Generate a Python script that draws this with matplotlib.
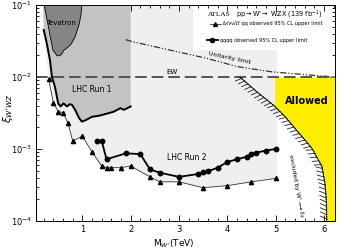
import numpy as np
import matplotlib
matplotlib.use("Agg")
import matplotlib.pyplot as plt
from matplotlib import patheffects as pe
from matplotlib.patches import Rectangle

# ---------------- data ----------------
tri_x = [0.3, 0.4, 0.5, 0.6, 0.7, 0.8, 1.0, 1.2, 1.4, 1.5, 1.6, 1.8, 2.0, 2.4, 2.6, 3.0, 3.5, 4.0, 4.5, 5.0]
tri_y = [0.0093, 0.0044, 0.0033, 0.0032, 0.0023, 0.00129, 0.0015, 0.00091, 0.00058, 0.00055,
         0.00055, 0.00055, 0.00058, 0.00041, 0.00035, 0.00035, 0.00029, 0.00031, 0.00035, 0.00039]

circ_x = [1.3, 1.4, 1.5, 1.9, 2.2, 2.4, 2.6, 3.0, 3.4, 3.5, 3.6, 3.8, 4.0, 4.2, 4.4, 4.5, 4.6, 4.8, 5.0]
circ_y = [0.0013, 0.0013, 0.00072, 0.00087, 0.00085, 0.00052, 0.00047, 0.00041, 0.00045, 0.00048,
          0.00049, 0.00055, 0.00066, 0.00072, 0.00078, 0.00085, 0.00089, 0.00095, 0.0010]

run1_x = [0.20, 0.26, 0.33, 0.37, 0.43, 0.50, 0.55, 0.61, 0.68, 0.74, 0.785, 0.85, 0.93, 0.99,
          1.06, 1.2, 1.35, 1.51, 1.65, 1.79, 1.85, 1.9, 2.0]
run1_y = [0.045, 0.030, 0.017, 0.0100, 0.0074, 0.0043, 0.0039, 0.0043, 0.0039, 0.0042, 0.0041,
          0.0035, 0.0027, 0.0024, 0.0025, 0.0028, 0.0029, 0.0031, 0.0033, 0.0037, 0.0035, 0.0036, 0.0039]

tev_x = [0.19, 0.21, 0.27, 0.33, 0.39, 0.48, 0.56, 0.62, 0.66, 0.77, 0.85, 0.93, 0.97, 0.99]
tev_y = [0.1, 0.1, 0.062, 0.038, 0.0237, 0.0196, 0.0203, 0.0237, 0.0245, 0.0288, 0.036, 0.053, 0.073, 0.1]

unit_x = [1.9, 2.03, 3.54, 4.22, 4.92, 5.89, 6.25]
unit_y = [0.033, 0.031, 0.0184, 0.0139, 0.0118, 0.0104, 0.0100]

wp_x = [4.26, 4.64, 4.95, 5.20, 5.44, 5.75, 5.96, 6.02, 6.05, 6.06]
wp_y = [0.0100, 0.0060, 0.0041, 0.0028, 0.0018, 0.00103, 0.00057, 0.00034, 0.000195, 0.0001]

ew_level = 0.01
run1_xmax = 2.0
run2_xmax = 5.03
xticks = [1, 2, 3, 4, 5, 6]
yticks = [1e-4, 1e-3, 1e-2, 1e-1]
ytick_labels = [r"$10^{-4}$", r"$10^{-3}$", r"$10^{-2}$", r"$10^{-1}$"]

XMIN, XMAX = 0.04, 6.23
YMIN, YMAX = 1e-4, 1e-1

# ---------------- figure ----------------
fig = plt.figure(figsize=(3.39, 2.5), dpi=100)
ax = fig.add_axes([36/339, 29/250, 299/339, 216/250])
ax.set_yscale("log")
ax.set_xlim(XMIN, XMAX)
ax.set_ylim(YMIN, YMAX)

# LHC Run 2 excluded (light grey)
r2x = [0.19, 0.20] + tri_x + [run2_xmax, run2_xmax]
r2y = [YMAX, 0.045] + tri_y + [tri_y[-1], YMAX]
ax.fill(r2x, r2y, color="#efefef", lw=0, zorder=1)

# legend white box
ax.add_patch(Rectangle((3.3, 0.0237), XMAX - 3.3, YMAX - 0.0237, facecolor="white",
                       edgecolor="none", zorder=1.5))

# LHC Run 1 (medium grey)
r1x = [0.19] + run1_x + [run1_xmax]
r1y = [YMAX] + run1_y + [YMAX]
ax.fill(r1x, r1y, color="#c3c3c3", lw=0, zorder=2)
ax.plot(run1_x, run1_y, color="black", lw=1.4, zorder=6)

# Tevatron
ax.fill(tev_x, tev_y, color="#858585", lw=0, zorder=3)
ax.plot(tev_x[1:], tev_y[1:], color="black", lw=0.6, zorder=4)

# Allowed region (yellow)
yy = np.logspace(-4, -2, 200)
wx = np.interp(np.log10(yy), np.log10(wp_y[::-1]), wp_x[::-1])
ax.fill_betweenx(yy, np.maximum(wx, 4.98), XMAX, color="#ffee00", lw=0, zorder=2)

# unitarity limit
ax.plot(unit_x, unit_y, color="#333333", lw=0.9, ls=(0, (5, 1.5, 1, 1.5, 1, 1.5)), zorder=2.5)

# EW dashed line
ax.axhline(ew_level, color="#555555", lw=1.4, ls=(0, (6, 2.5)), zorder=5)

# W' exclusion curve with hatch
ax.plot(wp_x, wp_y, color="#222222", lw=0.6, zorder=5,
        path_effects=[pe.withTickedStroke(angle=-115, spacing=3, length=1.6, linewidth=0.6)])
ax.plot(wp_x, wp_y, color="black", lw=0.9, ls=(0, (1, 1)), zorder=5.5)

# limit curves
ax.plot(tri_x, tri_y, color="#333333", lw=0.6, marker="^", ms=3, mfc="black", mec="black", zorder=7)
ax.plot(circ_x, circ_y, color="black", lw=1.3, marker="o", ms=3.2, mfc="black", mec="black", zorder=7)

# ---------------- text ----------------
ax.text(0.56, 0.057, "Tevatron", fontsize=5, ha="center", va="center", zorder=8)
ax.text(1.19, 0.0066, "LHC Run 1", fontsize=5.5, ha="center", va="center", zorder=8)
ax.text(3.17, 0.00075, "LHC Run 2", fontsize=5.5, ha="center", va="center", zorder=8)
ax.text(5.64, 0.0047, "Allowed", fontsize=7, fontweight="bold", ha="center", va="center", zorder=8)
ax.text(2.86, 0.0106, "EW", fontsize=5, ha="center", va="bottom", zorder=8)
ax.text(4.05, 0.0185, "Unitarity limit", fontsize=4.5, ha="center", va="center", rotation=-12, zorder=8)
ax.text(5.43, 0.00031, "excluded by W' \u27f6 \u2113\u03bd", fontsize=4.2, ha="center", va="center",
        rotation=-80, zorder=8)

# legend
ax.text(3.60, 0.073, "ATLAS", fontsize=5.2, family="Liberation Serif", ha="left", va="center", zorder=8)
ax.text(4.18, 0.073, r"pp$\rightarrow$W'$\rightarrow$ WZX (139 fb$^{-1}$)", fontsize=4.7,
        ha="left", va="center", zorder=8)
ax.plot([3.64, 3.86], [0.0545, 0.0545], color="#333333", lw=0.6, zorder=8)
ax.plot([3.75], [0.0545], marker="^", ms=2.8, color="black", zorder=8)
ax.text(3.90, 0.0545, "\u2113\u03bd/\u03bd\u03bd/\u2113\u2113 qq observed 95% CL upper limit", fontsize=3.6,
        ha="left", va="center", zorder=8)
ax.plot([3.58, 3.80], [0.0326, 0.0326], color="black", lw=1.3, zorder=8)
ax.plot([3.69], [0.0326], marker="o", ms=3, color="black", zorder=8)
ax.text(3.84, 0.0326, "qqqq observed 95% CL upper limit", fontsize=3.6, ha="left", va="center", zorder=8)

# ---------------- axes styling ----------------
ax.set_xticks(xticks)
ax.set_xticklabels([str(t) for t in xticks], fontsize=6)
ax.set_xticks(np.arange(0.2, 6.21, 0.2), minor=True)
ax.set_yticks(yticks)
ax.set_yticklabels(ytick_labels, fontsize=6)
ax.tick_params(which="both", direction="in", top=True, right=True, width=0.6)
ax.tick_params(which="major", length=4.5, pad=3)
ax.tick_params(which="minor", length=2.5)
for s in ax.spines.values():
    s.set_linewidth(0.7)
    s.set_zorder(9)
ax.set_xlabel(r"M$_{W'}$(TeV)", fontsize=6.5)
ax.xaxis.set_label_coords(0.46, -0.075)
ax.set_ylabel(r"$\xi_{W'WZ}$", fontsize=7.5)
ax.yaxis.set_label_coords(-0.07, 0.52)

fig.savefig("out.png", dpi=100)
